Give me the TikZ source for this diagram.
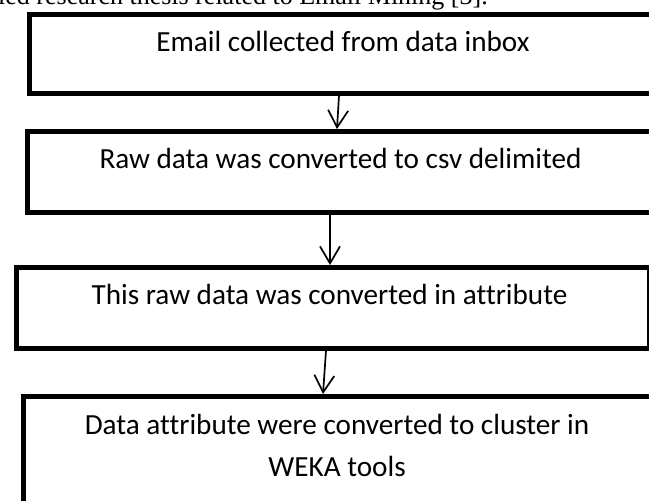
\documentclass[tikz,border=0pt]{standalone}
\usepackage{fontspec}
\setmainfont{Liberation Serif}
\newfontfamily\boxfont[Ligatures=NoCommon]{Carlito}
\usetikzlibrary{arrows.meta}

\tikzset{
  stepbox/.style={draw, line width=5pt, inner sep=0pt, anchor=north west},
  steptext/.style={font=\boxfont\fontsize{29.2}{42}\selectfont, align=center, anchor=base},
  flow/.style={line width=1.7pt, ->},
}

\begin{document}
\begin{tikzpicture}[x=1pt, y=-1pt, >={Straight Barb[length=17pt,width=20pt]}]
    \useasboundingbox (0,0) rectangle (649,501);
    \clip (0,0) rectangle (649,501);
    % running text above the chart
    \node[font=\fontsize{26}{30}\selectfont, anchor=base west, inner sep=0pt] (bodyline) at (-2,4) {ied research thesis related to Email Mining [3].};
    % Boxes
    \node[stepbox, minimum width=640pt, minimum height=78.5pt] (emailbox) at (27,12) {};
    \node[stepbox, minimum width=645pt, minimum height=81pt] (rawbox) at (24.5,129) {};
    \node[stepbox, minimum width=633pt, minimum height=80.5pt] (attrbox) at (13.5,265) {};
    \node[stepbox, minimum width=650pt, minimum height=130pt] (clusterbox) at (20.5,394) {};
    % Box texts
    \node[steptext] (emailtext) at (343,51) {Email collected from data inbox};
    \node[steptext] (rawtext) at (340.5,168) {Raw data was converted to csv delimited};
    \node[steptext] (attrtext) at (329.5,304) {This raw data was converted in attribute};
    \node[steptext] (clustertext) at (337,476) {Data attribute were converted to cluster in\\WEKA tools};
    % Arrows
    \coordinate (a1) at (339,0);
    \coordinate (a1e) at (337,0);
    \coordinate (a2) at (330,0);
    \coordinate (a3) at (326,0);
    \coordinate (a3e) at (323,0);
    \draw[flow] (emailbox.south -| a1) -- (rawbox.north -| a1e);
    \draw[flow] (rawbox.south -| a2) -- (attrbox.north -| a2);
    \draw[flow] (attrbox.south -| a3) -- (clusterbox.north -| a3e);
\end{tikzpicture}
\end{document}
